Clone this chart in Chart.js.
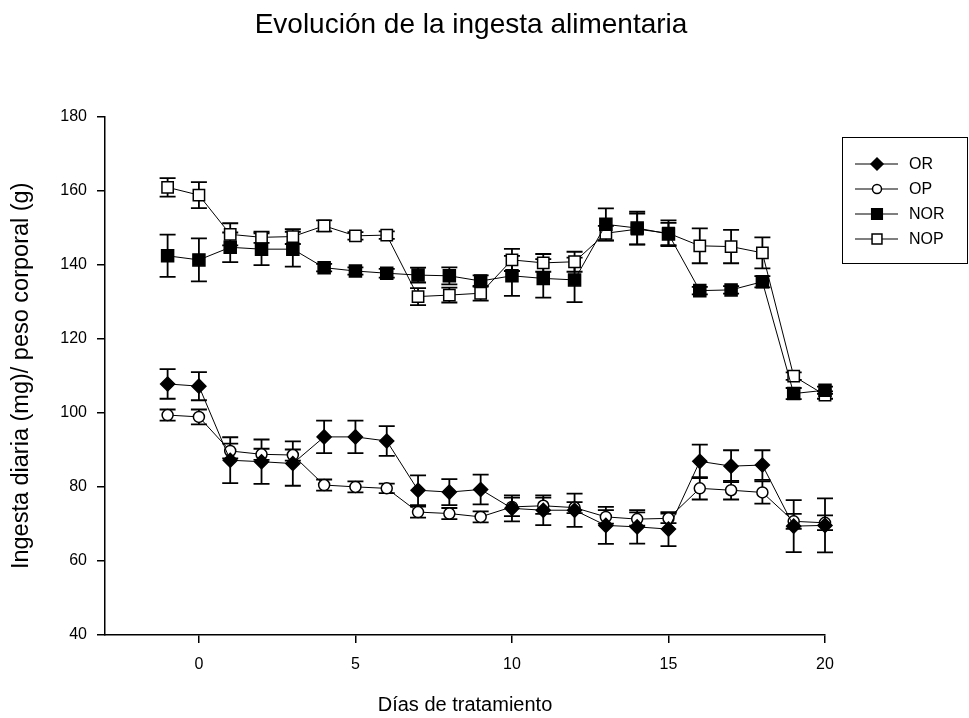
<!DOCTYPE html>
<html lang="es">
<head>
<meta charset="UTF-8">
<title>Evolución de la ingesta alimentaria</title>
<script src="https://cdn.jsdelivr.net/npm/chart.js"></script>
<style>
  html, body { margin: 0; padding: 0; background: #fff; }
  #wrap { width: 969px; height: 718px; }
</style>
</head>
<body>
<div id="wrap"><canvas id="chart"></canvas></div>
<script>
// días de tratamiento
const dias = [-1, 0, 1, 2, 3, 4, 5, 6, 7, 8, 9, 10, 11, 12, 13, 14, 15, 16, 17, 18, 19, 20];

// medias por grupo
const OR  = [107.8, 107.2, 87.2, 86.8, 86.3, 93.5, 93.5, 92.4, 79.1, 78.6, 79.3, 74.2, 73.7, 73.7, 69.6, 69.2, 68.6, 86.9, 85.6, 85.9, 69.4, 69.6];
const OP  = [99.4, 98.9, 89.7, 88.8, 88.6, 80.5, 80.0, 79.6, 73.2, 72.8, 71.9, 74.6, 74.9, 74.4, 71.9, 71.3, 71.5, 79.6, 79.1, 78.5, 70.7, 70.3];
const NOR = [142.4, 141.3, 144.7, 144.2, 144.2, 139.2, 138.3, 137.7, 137.2, 137.0, 135.6, 137.0, 136.3, 135.9, 150.9, 149.9, 148.3, 133.0, 133.2, 135.4, 105.2, 106.1];
const NOP = [160.9, 158.8, 148.2, 147.4, 147.6, 150.5, 147.8, 148.0, 131.4, 131.8, 132.3, 141.3, 140.5, 140.8, 148.5, 149.6, 148.5, 145.1, 144.9, 143.2, 109.9, 104.8];

// error (barras)
const errOR  = [4.0, 3.8, 6.2, 6.0, 6.0, 4.4, 4.4, 4.0, 4.0, 3.5, 4.0, 3.5, 4.0, 4.5, 5.0, 4.5, 4.6, 4.5, 4.3, 4.0, 7.0, 7.3];
const errOP  = [1.5, 2.0, 2.0, 1.5, 1.5, 1.5, 1.5, 1.3, 1.5, 1.5, 1.5, 2.5, 2.2, 1.5, 1.8, 1.8, 1.3, 3.0, 2.5, 3.0, 2.0, 2.0];
const errNOR = [5.7, 5.8, 4.0, 4.3, 4.7, 1.0, 1.0, 1.2, 2.0, 2.3, 1.5, 5.4, 5.2, 6.0, 4.3, 4.4, 3.0, 1.0, 1.0, 1.5, 1.5, 1.0];
const errNOP = [2.5, 3.5, 3.0, 1.5, 2.0, 1.5, 1.0, 1.0, 2.3, 2.0, 2.0, 3.0, 2.4, 2.7, 2.0, 4.2, 3.5, 4.7, 4.5, 4.2, 1.0, 1.0];

// marcas de los ejes
const xTicks = [0, 5, 10, 15, 20];
const yTicks = [40, 60, 80, 100, 120, 140, 160, 180];

const FONT = "'Liberation Sans', Arial, sans-serif";

function serie(label, vals, errs, style, radius, fill) {
    return {
        label: label,
        data: dias.map((d, i) => ({ x: d, y: vals[i] })),
        errors: errs,
        borderColor: '#000',
        borderWidth: 1,
        pointStyle: style,
        pointRadius: radius,
        pointHoverRadius: radius,
        pointBackgroundColor: fill,
        pointBorderColor: '#000',
        pointBorderWidth: 1.5,
        tension: 0,
        clip: false
    };
}

// barras de error
const errorBars = {
    id: 'errorBars',
    beforeDatasetsDraw(chart) {
        const ctx = chart.ctx;
        const x = chart.scales.x, y = chart.scales.y;
        ctx.save();
        ctx.strokeStyle = '#000';
        ctx.lineWidth = 1.8;
        chart.data.datasets.forEach((ds) => {
            ds.data.forEach((p, j) => {
                const e = ds.errors[j];
                const px = x.getPixelForValue(p.x);
                const top = y.getPixelForValue(p.y + e);
                const bot = y.getPixelForValue(p.y - e);
                ctx.beginPath();
                ctx.moveTo(px, top); ctx.lineTo(px, bot);
                ctx.moveTo(px - 8, top); ctx.lineTo(px + 8, top);
                ctx.moveTo(px - 8, bot); ctx.lineTo(px + 8, bot);
                ctx.stroke();
            });
        });
        ctx.restore();
    }
};

// leyenda con recuadro
const boxLegend = {
    id: 'boxLegend',
    afterDraw(chart) {
        const ctx = chart.ctx;
        ctx.save();
        ctx.strokeStyle = '#000';
        ctx.lineWidth = 1;
        ctx.strokeRect(842.5, 137.5, 125, 126);
        chart.data.datasets.forEach((ds, i) => {
            const yy = 164 + i * 25;
            ctx.beginPath();
            ctx.lineWidth = 1.2;
            ctx.moveTo(855, yy); ctx.lineTo(898, yy);
            ctx.stroke();
            ctx.fillStyle = ds.pointBackgroundColor;
            ctx.lineWidth = ds.pointBorderWidth;
            Chart.helpers.drawPoint(ctx, {
                pointStyle: ds.pointStyle,
                radius: ds.pointRadius - 1,
                borderWidth: ds.pointBorderWidth
            }, 877, yy);
            ctx.fillStyle = '#000';
            ctx.font = '16px ' + FONT;
            ctx.textBaseline = 'middle';
            ctx.fillText(ds.label, 909, yy + 1);
        });
        ctx.restore();
    }
};

new Chart(document.getElementById('chart'), {
    type: 'line',
    data: {
        datasets: [
            serie('OR', OR, errOR, 'rectRot', 7, '#000'),
            serie('OP', OP, errOP, 'circle', 5.5, '#fff'),
            serie('NOR', NOR, errNOR, 'rect', 8.5, '#000'),
            serie('NOP', NOP, errNOP, 'rect', 8, '#fff')
        ]
    },
    options: {
        responsive: true,
        maintainAspectRatio: false,
        animation: false,
        layout: { padding: { left: 0, right: 27, top: 0, bottom: 0 } },
        plugins: {
            legend: { display: false },
            tooltip: { enabled: false },
            title: {
                display: true,
                text: 'Evolución de la ingesta alimentaria',
                color: '#000',
                font: { family: FONT, size: 28, weight: 'normal' },
                padding: { top: 8, bottom: 75 }
            }
        },
        scales: {
            x: {
                type: 'linear',
                min: -3,
                max: 20,
                afterBuildTicks: (s) => { s.ticks = xTicks.map(v => ({ value: v })); },
                afterFit: (s) => { s.height = 83; },
                grid: { drawOnChartArea: false, drawTicks: true, tickLength: 8, color: '#000', lineWidth: 1.5 },
                border: { display: true, color: '#000', width: 1.5 },
                ticks: { color: '#000', padding: 12, font: { family: FONT, size: 16 } },
                title: {
                    display: true,
                    text: 'Días de tratamiento',
                    color: '#000',
                    font: { family: FONT, size: 20 },
                    padding: { top: 0, bottom: 1 }
                }
            },
            y: {
                min: 40,
                max: 180,
                afterBuildTicks: (s) => { s.ticks = yTicks.map(v => ({ value: v })); },
                afterFit: (s) => { s.width = 105; },
                grid: { drawOnChartArea: false, drawTicks: true, tickLength: 8, color: '#000', lineWidth: 1.5 },
                border: { display: true, color: '#000', width: 1.5 },
                ticks: { color: '#000', padding: 10, font: { family: FONT, size: 16 } },
                title: {
                    display: true,
                    text: 'Ingesta diaria (mg)/ peso corporal (g)',
                    color: '#000',
                    font: { family: FONT, size: 23.5 },
                    padding: { top: 7, bottom: 0 }
                }
            },
            y2: {
                position: 'right',
                display: true,
                afterFit: (s) => { s.width = 117; },
                grid: { display: false },
                border: { display: false },
                ticks: { display: false }
            }
        }
    },
    plugins: [errorBars, boxLegend]
});
</script>
</body>
</html>
